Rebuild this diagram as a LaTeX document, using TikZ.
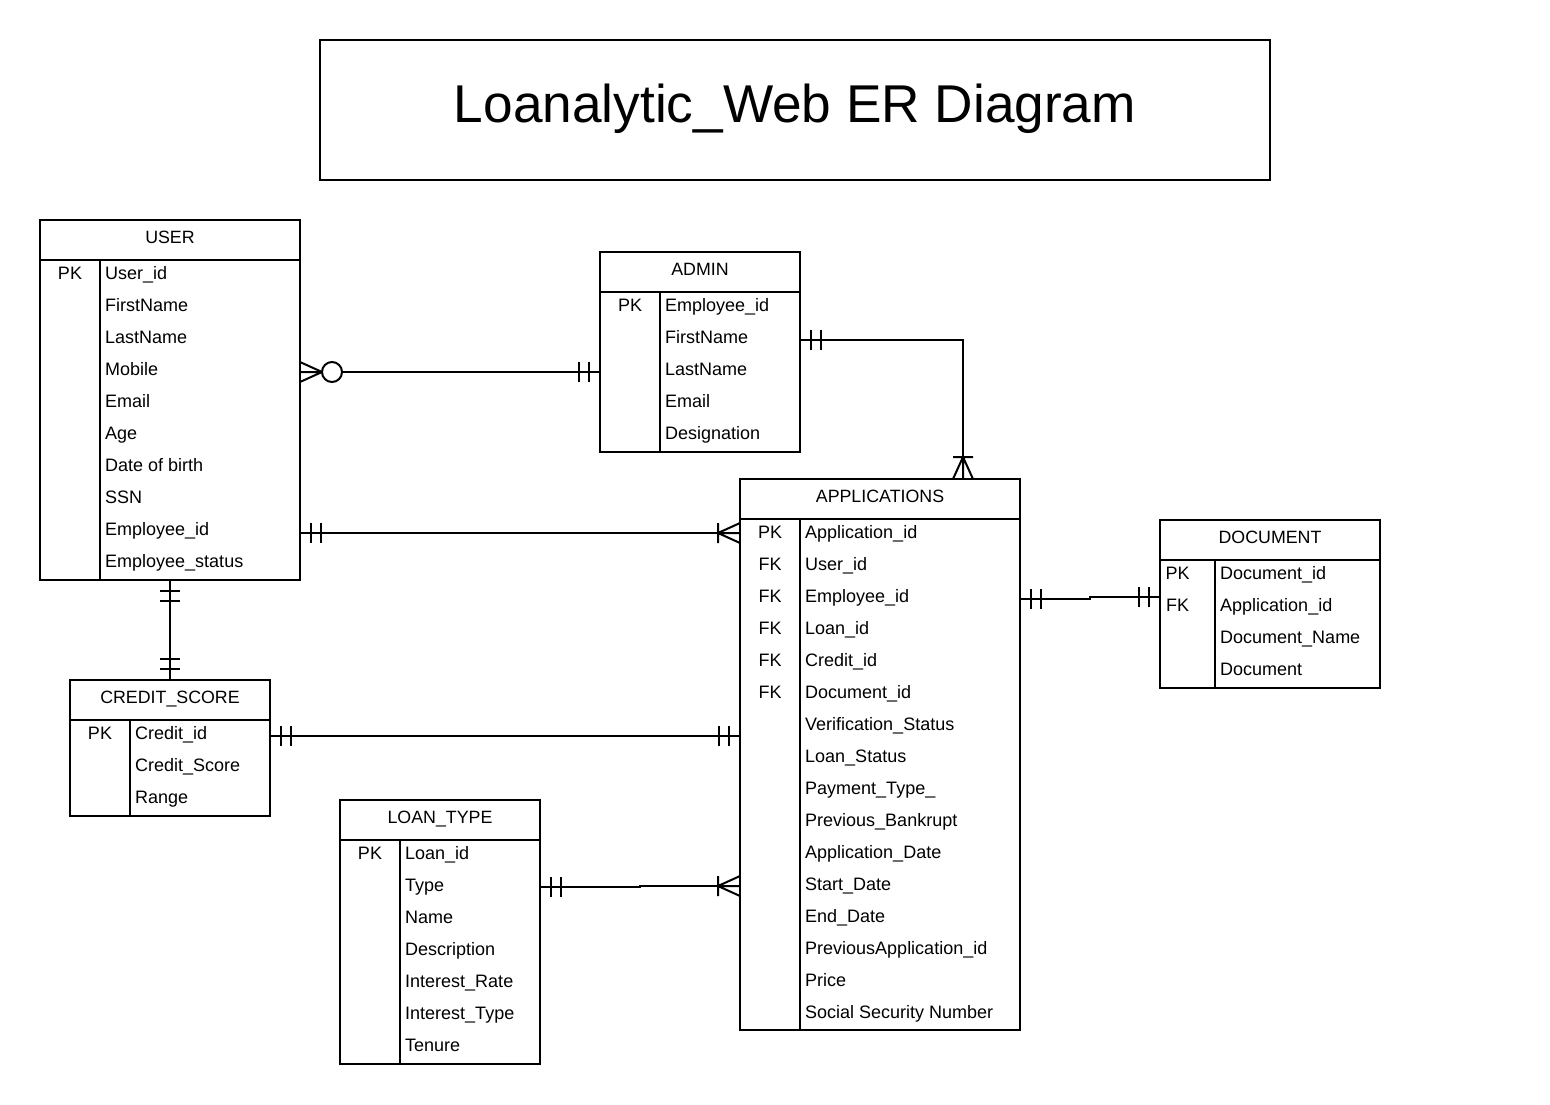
\documentclass[tikz,border=0pt]{standalone}
\usepackage{fontspec}
\setmainfont{Liberation Sans}
\usetikzlibrary{calc}

\tikzset{
  entity/.style={draw, line width=2pt, inner sep=0pt, outer sep=0pt},
  hdr/.style={inner sep=0pt, anchor=base, font=\fontsize{17.8}{20}\selectfont},
  field/.style={inner sep=0pt, font=\fontsize{18}{20}\selectfont},
  conn/.style={line width=2pt},
  % one and only one: two bars across the line
  erone/.pic={\draw[conn] (11,-10) -- (11,10) (21,-10) -- (21,10);},
  % one or many: crow's foot with a bar
  ermany/.pic={\draw[conn] (0,-10) -- (22,0) -- (0,10) (22,-10) -- (22,10) (0,0) -- (22,0);},
  % zero or many: crow's foot with a circle
  erzeromany/.pic={\draw[conn] (0,-10) -- (22,0) -- (0,10) (0,0) -- (22,0);
                   \draw[conn, fill=white] (32,0) circle (10);}
}

% #1 name, #2 left, #3 top, #4 width, #5 height, #6 key column width,
% #7 key column text centre, #8 title, #9 key/field rows
\newcommand{\erentity}[9]{%
  \node[entity, minimum width=#4pt, minimum height=#5pt, anchor=north west] (#1) at (#2,#3) {};
  \draw[conn] ([yshift=-40pt]#1.north west) -- ([yshift=-40pt]#1.north east);
  \draw[conn] ([shift={(#6,40)}]#1.north west) -- ([xshift=#6pt]#1.south west);
  \node[hdr] (#1-title) at ([yshift=-23.5pt]#1.north) {#8};
  \foreach \k/\f [count=\i from 0] in {#9} {
    \node[field, anchor=base] (#1-k\i) at ([shift={(#7,{59.5+32*\i})}]#1.north west) {\k};
    \node[field, anchor=base west] (#1-f\i) at ([shift={({#6+5},{59.5+32*\i})}]#1.north west) {\f};
  }%
}

\begin{document}
\begin{tikzpicture}[x=1pt, y=-1pt]
\useasboundingbox (0,0) rectangle (1550,1104);
\fill[white] (0,0) rectangle (1550,1104);

% title
\node[entity, minimum width=950pt, minimum height=140pt, anchor=north west] (titlebox) at (320,40) {};
\node[inner sep=0pt, anchor=base, font=\fontsize{53.2}{60}\selectfont] (titletext)
  at ([yshift=-82pt]titlebox.north) {Loanalytic\_Web ER Diagram};

% entities
\erentity{user}{40}{220}{260}{360}{60}{30}{USER}
  {PK/User\_id, /FirstName, /LastName, /Mobile, /Email, /Age, /Date of birth, /SSN, /Employee\_id, /Employee\_status}
\erentity{admin}{600}{252}{200}{200}{60}{30}{ADMIN}
  {PK/Employee\_id, /FirstName, /LastName, /Email, /Designation}
\erentity{app}{740}{479}{280}{551}{60}{30}{APPLICATIONS}
  {PK/Application\_id, FK/User\_id, FK/Employee\_id, FK/Loan\_id, FK/Credit\_id, FK/Document\_id,
   /Verification\_Status, /Loan\_Status, /Payment\_Type\_, /Previous\_Bankrupt, /Application\_Date,
   /Start\_Date, /End\_Date, /PreviousApplication\_id, /Price, /Social Security Number}
\erentity{doc}{1160}{520}{220}{168}{55}{17.5}{DOCUMENT}
  {PK/Document\_id, FK/Application\_id, /Document\_Name, /Document}
\erentity{credit}{70}{680}{200}{136}{60}{30}{CREDIT\_SCORE}
  {PK/Credit\_id, /Credit\_Score, /Range}
\erentity{loan}{340}{800}{200}{264}{60}{30}{LOAN\_TYPE}
  {PK/Loan\_id, /Type, /Name, /Description, /Interest\_Rate, /Interest\_Type, /Tenure}

% USER -- ADMIN
\coordinate (ua1) at ([yshift=-152pt]user.north east);
\coordinate (ua2) at ([yshift=-120pt]admin.north west);
\draw[conn] (ua1) -- (ua2);
\pic at (ua1) {erzeromany};
\pic[rotate=180] at (ua2) {erone};

% ADMIN -- APPLICATIONS
\coordinate (aa1) at ([yshift=-88pt]admin.north east);
\coordinate (aa2) at ([xshift=223pt]app.north west);
\draw[conn] (aa1) -| (aa2);
\pic at (aa1) {erone};
\pic[rotate=90] at (aa2) {ermany};

% USER -- APPLICATIONS
\coordinate (up1) at ([yshift=-313pt]user.north east);
\coordinate (up2) at ([yshift=-54pt]app.north west);
\draw[conn] (up1) -- (up2);
\pic at (up1) {erone};
\pic[rotate=180] at (up2) {ermany};

% USER -- CREDIT_SCORE
\draw[conn] (user.south) -- (credit.north);
\pic[rotate=-90] at (user.south) {erone};
\pic[rotate=90] at (credit.north) {erone};

% CREDIT_SCORE -- APPLICATIONS
\coordinate (cp1) at ([yshift=-56pt]credit.north east);
\coordinate (cp2) at ([yshift=-257pt]app.north west);
\draw[conn] (cp1) -- (cp2);
\pic at (cp1) {erone};
\pic[rotate=180] at (cp2) {erone};

% LOAN_TYPE -- APPLICATIONS
\coordinate (lp1) at ([yshift=-87pt]loan.north east);
\coordinate (lp2) at ([yshift=-407pt]app.north west);
\draw[conn] (lp1) -- ++(100,0) |- (lp2);
\pic at (lp1) {erone};
\pic[rotate=180] at (lp2) {ermany};

% APPLICATIONS -- DOCUMENT
\coordinate (pd1) at ([yshift=-120pt]app.north east);
\coordinate (pd2) at ([yshift=-77pt]doc.north west);
\draw[conn] (pd1) -- ++(70,0) |- (pd2);
\pic at (pd1) {erone};
\pic[rotate=180] at (pd2) {erone};
\end{tikzpicture}
\end{document}
